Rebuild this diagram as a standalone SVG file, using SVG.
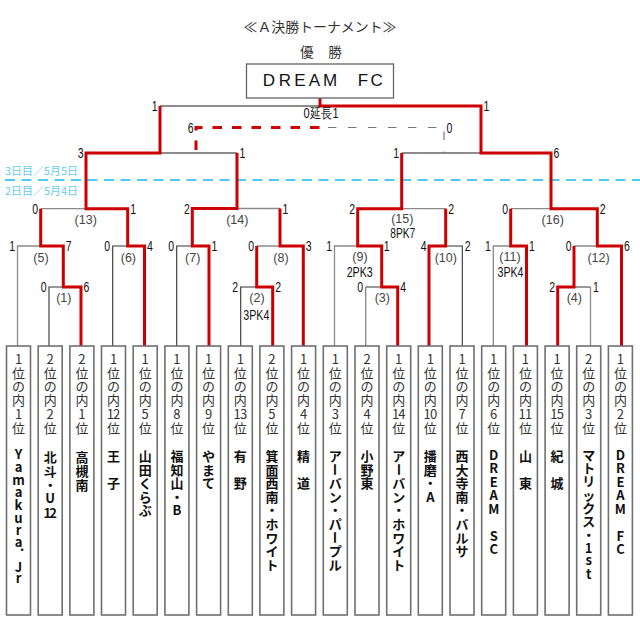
<svg xmlns="http://www.w3.org/2000/svg" width="640" height="640" viewBox="0 0 640 640">
<style>
.box{fill:#fff;stroke:#707070;stroke-width:1.6}
.rk{font-family:"Noto Sans CJK JP",sans-serif;font-size:13px;fill:#333;text-anchor:middle}
.tm{font-family:"Noto Sans CJK JP",sans-serif;font-size:13px;font-weight:700;fill:#111;text-anchor:middle}
.ln{fill:none;stroke:#8a8a8a;stroke-width:1.3}
.lk{fill:none;stroke:#333;stroke-width:1.1}
.lt{fill:none;stroke:#666;stroke-width:1.3}
.w{fill:none;stroke:#cc0000;stroke-width:3;stroke-linejoin:miter}
.wd{fill:none;stroke:#cc0000;stroke-width:3;stroke-dasharray:9.5 10;stroke-dashoffset:16.5}
.gd{fill:none;stroke:#777;stroke-width:1.2;stroke-dasharray:8.5 11.5}
.cy{fill:none;stroke:#4fc9f0;stroke-width:2;stroke-dasharray:10 6.5}
.sc{font-family:"Liberation Sans",Arial,sans-serif;font-size:14px;fill:#111}
.l{text-anchor:end}
.lb{font-family:"Liberation Sans",Arial,sans-serif;font-size:12.5px;fill:#444;text-anchor:middle}
.pk{font-family:"Liberation Sans",Arial,sans-serif;font-size:14px;fill:#111;text-anchor:middle}
.tt{font-family:"Noto Sans CJK JP",sans-serif;font-size:13.5px;fill:#333;text-anchor:middle}
.dt{font-family:"Noto Sans CJK JP",sans-serif;font-size:11px;fill:#66ccee}
.ch{font-family:"Liberation Sans",Arial,sans-serif;font-size:17px;fill:#111;text-anchor:middle}
</style>
<rect width="640" height="640" fill="#fff"/>

<g id="title">
<text class="tt" x="320" y="31.5" textLength="153" lengthAdjust="spacingAndGlyphs">≪Ａ決勝トーナメント≫</text>
<text class="tt" x="306.7 321 335" y="56.7">優　勝</text>
</g>

<g id="dates">
<path class="cy" d="M5,180H640"/>
<text class="dt" x="5" y="174.5" textLength="73" lengthAdjust="spacingAndGlyphs">3日目／5月5日</text>
<text class="dt" x="5" y="194.8" textLength="73" lengthAdjust="spacingAndGlyphs">2日目／5月4日</text>
</g>

<g id="connectors">
<path class="lk" d="M49,346V287H81"/>
<path class="ln" d="M17.5,346V246H63.3"/>
<path class="lk" d="M112.7,346V246H144.5"/>
<path class="ln" d="M40.7,208.7H127.7"/>
<path class="lk" d="M176.7,346V246H209"/>
<path class="lk" d="M240.7,346V287H272.7"/>
<path class="ln" d="M256.7,246H303.3"/>
<path class="ln" d="M192.3,208.5H280"/>
<path class="lt" d="M86,153H237"/>
<path class="lk" d="M365.7,287H397.7"/>
<path class="ln" d="M365.7,346V287"/>
<path class="ln" d="M334.5,346V246H381.7"/>
<path class="lk" d="M429,246H462.3V346"/>
<path class="ln" d="M357.7,208.7H445.7"/>
<path class="ln" d="M493.3,346V246H526.5"/>
<path class="lk" d="M557.7,287H590.5"/>
<path class="ln" d="M590.5,287V346"/>
<path class="ln" d="M574,246H621.5"/>
<path class="ln" d="M510.7,208.7H597.3"/>
<path class="lt" d="M401.7,153H551"/>
<path class="lt" d="M160,106H481"/>
<path class="gd" d="M328,127.5H444V153"/>
<path class="wd" d="M196,153V127.5H320"/>
<path class="w" d="M81,346V287H63.3V246H40.7V208.7"/>
<path class="w" d="M144.5,346V246H127.7V208.7H86V153H160V106"/>
<path class="w" d="M209,346V246H192.3V208.5H237V153"/>
<path class="w" d="M272.7,346V287H256.7V246"/>
<path class="w" d="M303.3,346V246H280V208.5"/>
<path class="w" d="M397.7,346V287H381.7V246H357.7V208.7H401.7V153"/>
<path class="w" d="M429,346V246H445.7V208.7"/>
<path class="w" d="M526.5,346V246H510.7V208.7"/>
<path class="w" d="M557.7,346V287H574V246"/>
<path class="w" d="M621.5,346V246H597.3V208.7H551V153H481V106H320V98"/>
</g>

<g id="scores">
<text class="sc l" transform="translate(46.5,292) scale(.75,1)">0</text>
<text class="sc" transform="translate(83.5,292) scale(.75,1)">6</text>
<text class="sc l" transform="translate(15,251) scale(.75,1)">1</text>
<text class="sc" transform="translate(65.8,251) scale(.75,1)">7</text>
<text class="sc l" transform="translate(110.2,251) scale(.75,1)">0</text>
<text class="sc" transform="translate(147,251) scale(.75,1)">4</text>
<text class="sc l" transform="translate(38.2,213.7) scale(.75,1)">0</text>
<text class="sc" transform="translate(130.2,213.7) scale(.75,1)">1</text>
<text class="sc l" transform="translate(174.2,251) scale(.75,1)">0</text>
<text class="sc" transform="translate(211.5,251) scale(.75,1)">1</text>
<text class="sc l" transform="translate(238.2,292) scale(.75,1)">2</text>
<text class="sc" transform="translate(275.2,292) scale(.75,1)">2</text>
<text class="sc l" transform="translate(254.2,251) scale(.75,1)">0</text>
<text class="sc" transform="translate(305.8,251) scale(.75,1)">3</text>
<text class="sc l" transform="translate(189.8,213.5) scale(.75,1)">2</text>
<text class="sc" transform="translate(282.5,213.5) scale(.75,1)">1</text>
<text class="sc l" transform="translate(83.5,158) scale(.75,1)">3</text>
<text class="sc" transform="translate(239.5,158) scale(.75,1)">1</text>
<text class="sc l" transform="translate(363.2,292) scale(.75,1)">0</text>
<text class="sc" transform="translate(400.2,292) scale(.75,1)">4</text>
<text class="sc l" transform="translate(332,251) scale(.75,1)">1</text>
<text class="sc" transform="translate(383.8,251) scale(.75,1)">1</text>
<text class="sc l" transform="translate(426.5,251) scale(.75,1)">4</text>
<text class="sc" transform="translate(464.8,251) scale(.75,1)">2</text>
<text class="sc l" transform="translate(355.2,213.7) scale(.75,1)">2</text>
<text class="sc" transform="translate(448.2,213.7) scale(.75,1)">2</text>
<text class="sc l" transform="translate(490.8,251) scale(.75,1)">1</text>
<text class="sc" transform="translate(529,251) scale(.75,1)">1</text>
<text class="sc l" transform="translate(555.2,292) scale(.75,1)">2</text>
<text class="sc" transform="translate(593,292) scale(.75,1)">1</text>
<text class="sc l" transform="translate(571.5,251) scale(.75,1)">0</text>
<text class="sc" transform="translate(624,251) scale(.75,1)">6</text>
<text class="sc l" transform="translate(508.2,213.7) scale(.75,1)">0</text>
<text class="sc" transform="translate(599.8,213.7) scale(.75,1)">2</text>
<text class="sc l" transform="translate(399.2,158) scale(.75,1)">1</text>
<text class="sc" transform="translate(553.5,158) scale(.75,1)">6</text>
<text class="sc l" transform="translate(157.5,111) scale(.75,1)">1</text>
<text class="sc" transform="translate(483.5,111) scale(.75,1)">1</text>
<text class="sc l" transform="translate(193.5,132.5) scale(.75,1)">6</text>
<text class="sc" transform="translate(446.5,132.5) scale(.75,1)">0</text>
<text class="pk" font-size="13" transform="translate(321,118.3) scale(.79,1)">0延長1</text>
<text class="pk" transform="translate(256.3,320) scale(.76,1)">3PK4</text>
<text class="pk" transform="translate(359.7,276.5) scale(.76,1)">2PK3</text>
<text class="pk" transform="translate(402.8,238.3) scale(.73,1)">8PK7</text>
<text class="pk" transform="translate(510.5,276.5) scale(.76,1)">3PK4</text>
</g>

<g id="match-labels">
<text class="lb" x="63.8" y="301.5">(1)</text>
<text class="lb" x="257" y="301.5">(2)</text>
<text class="lb" x="382.3" y="301.5">(3)</text>
<text class="lb" x="574.3" y="301.5">(4)</text>
<text class="lb" x="41" y="261.5">(5)</text>
<text class="lb" x="128.4" y="261.5">(6)</text>
<text class="lb" x="192.7" y="261.5">(7)</text>
<text class="lb" x="281" y="261.5">(8)</text>
<text class="lb" x="360" y="261">(9)</text>
<text class="lb" x="445.8" y="261.5">(10)</text>
<text class="lb" x="510" y="261">(11)</text>
<text class="lb" x="598.5" y="261.5">(12)</text>
<text class="lb" x="85.7" y="224">(13)</text>
<text class="lb" x="237.3" y="224">(14)</text>
<text class="lb" x="402.3" y="222.5">(15)</text>
<text class="lb" x="552.7" y="224">(16)</text>
</g>

<g id="champion">
<rect x="246.5" y="64" width="147" height="34" fill="#fff" stroke="#666" stroke-width="1.3"/>
<text class="ch" x="269 285 300 314.5 330 346.5 363 376.7" y="86">DREAM FC</text>
</g>

<g id="team-1">
<rect class="box" x="6.5" y="346" width="24" height="269"/>
<text class="rk" x="18.5 18.5 18.5 18.5 18.5 18.5" y="364 377.7 391.4 405.1 418.8 432.5">1位の内1位</text>
<text class="tm" x="18.5 18.5 18.5 18.5 18.5 18.5 18.5 18.5 22 18.5 18.5" y="459 471.5 484.5 496.5 510.4 522.5 534.5 546.5 551 572.4 582.8">Yamakura.Jr</text>
</g>
<g id="team-2">
<rect class="box" x="38.2" y="346" width="24" height="269"/>
<text class="rk" x="50.2 50.2 50.2 50.2 50.2 50.2" y="364 377.7 391.4 405.1 418.8 432.5">2位の内2位</text>
<text class="tm" x="50.2 50.2 50.2 50.2 47.4 53" y="462 475.8 489.6 503.4 517.6 517.6">北斗・U12</text>
</g>
<g id="team-3">
<rect class="box" x="69.9" y="346" width="24" height="269"/>
<text class="rk" x="81.9 81.9 81.9 81.9 81.9 81.9" y="364 377.7 391.4 405.1 418.8 432.5">2位の内1位</text>
<text class="tm" x="81.9 81.9 81.9" y="462 476 490">高槻南</text>
</g>
<g id="team-4">
<rect class="box" x="101.5" y="346" width="24" height="269"/>
<text class="rk" x="113.5 113.5 113.5 113.5 110.3 116.7 113.5" y="364 377.7 391.4 405.1 418.8 418.8 432.5">1位の内12位</text>
<text class="tm" x="113.5 113.5 113.5" y="461 474.6 488.2">王　子</text>
</g>
<g id="team-5">
<rect class="box" x="133.2" y="346" width="24" height="269"/>
<text class="rk" x="145.2 145.2 145.2 145.2 145.2 145.2" y="364 377.7 391.4 405.1 418.8 432.5">1位の内5位</text>
<text class="tm" x="145.2 145.2 145.2 145.2 145.2" y="461 474.6 488.2 501.8 515.4">山田くらぶ</text>
</g>
<g id="team-6">
<rect class="box" x="164.9" y="346" width="24" height="269"/>
<text class="rk" x="176.9 176.9 176.9 176.9 176.9 176.9" y="364 377.7 391.4 405.1 418.8 432.5">1位の内8位</text>
<text class="tm" x="176.9 176.9 176.9 176.9 176.9" y="461 474.6 488.2 501.8 515.4">福知山・B</text>
</g>
<g id="team-7">
<rect class="box" x="196.6" y="346" width="24" height="269"/>
<text class="rk" x="208.6 208.6 208.6 208.6 208.6 208.6" y="364 377.7 391.4 405.1 418.8 432.5">1位の内9位</text>
<text class="tm" x="208.6 208.6 208.6" y="461 474.6 488.2">やまて</text>
</g>
<g id="team-8">
<rect class="box" x="228.3" y="346" width="24" height="269"/>
<text class="rk" x="240.3 240.3 240.3 240.3 237.1 243.5 240.3" y="364 377.7 391.4 405.1 418.8 418.8 432.5">1位の内13位</text>
<text class="tm" x="240.3 240.3 240.3" y="461 474.6 488.2">有　野</text>
</g>
<g id="team-9">
<rect class="box" x="259.9" y="346" width="24" height="269"/>
<text class="rk" x="271.9 271.9 271.9 271.9 271.9 271.9" y="364 377.7 391.4 405.1 418.8 432.5">2位の内5位</text>
<text class="tm" x="271.9 271.9 271.9 271.9 271.9 271.9 271.9 271.9 271.9" y="461 474.6 488.2 501.8 515.4 529 542.6 556.2 569.8">箕面西南・ホワイト</text>
</g>
<g id="team-10">
<rect class="box" x="291.6" y="346" width="24" height="269"/>
<text class="rk" x="303.6 303.6 303.6 303.6 303.6 303.6" y="364 377.7 391.4 405.1 418.8 432.5">1位の内4位</text>
<text class="tm" x="303.6 303.6 303.6" y="461 474.6 488.2">精　道</text>
</g>
<g id="team-11">
<rect class="box" x="323.3" y="346" width="24" height="269"/>
<text class="rk" x="335.3 335.3 335.3 335.3 335.3 335.3" y="364 377.7 391.4 405.1 418.8 432.5">1位の内3位</text>
<text class="tm" x="335.3 336.9 335.3 335.3 335.3 335.3 336.9 335.3 335.3" y="461 463.1 488.2 501.8 515.4 529 531.1 556.2 569.8" rotate="0 90 0 0 0 0 90 0 0">アーバン・パープル</text>
</g>
<g id="team-12">
<rect class="box" x="355" y="346" width="24" height="269"/>
<text class="rk" x="367 367 367 367 367 367" y="364 377.7 391.4 405.1 418.8 432.5">2位の内4位</text>
<text class="tm" x="367 367 367" y="461 474.6 488.2">小野東</text>
</g>
<g id="team-13">
<rect class="box" x="386.7" y="346" width="24" height="269"/>
<text class="rk" x="398.7 398.7 398.7 398.7 395.5 401.9 398.7" y="364 377.7 391.4 405.1 418.8 418.8 432.5">1位の内14位</text>
<text class="tm" x="398.7 400.3 398.7 398.7 398.7 398.7 398.7 398.7 398.7" y="461 463.1 488.2 501.8 515.4 529 542.6 556.2 569.8" rotate="0 90 0 0 0 0 0 0 0">アーバン・ホワイト</text>
</g>
<g id="team-14">
<rect class="box" x="418.3" y="346" width="24" height="269"/>
<text class="rk" x="430.3 430.3 430.3 430.3 427.1 433.5 430.3" y="364 377.7 391.4 405.1 418.8 418.8 432.5">1位の内10位</text>
<text class="tm" x="430.3 430.3 430.3 430.3" y="461 474.6 488.2 501.8">播磨・A</text>
</g>
<g id="team-15">
<rect class="box" x="450" y="346" width="24" height="269"/>
<text class="rk" x="462 462 462 462 462 462" y="364 377.7 391.4 405.1 418.8 432.5">1位の内7位</text>
<text class="tm" x="462 462 462 462 462 462 462 462" y="461 474.6 488.2 501.8 515.4 529 542.6 556.2">西大寺南・バルサ</text>
</g>
<g id="team-16">
<rect class="box" x="481.7" y="346" width="24" height="269"/>
<text class="rk" x="493.7 493.7 493.7 493.7 493.7 493.7" y="364 377.7 391.4 405.1 418.8 432.5">1位の内6位</text>
<text class="tm" x="493.7 493.7 493.7 493.7 493.7 493.7 493.7 493.7" y="459.7 473.2 486.7 500.2 513.7 527.2 540.7 554.2">DREAM　SC</text>
</g>
<g id="team-17">
<rect class="box" x="513.4" y="346" width="24" height="269"/>
<text class="rk" x="525.4 525.4 525.4 525.4 522.2 528.6 525.4" y="364 377.7 391.4 405.1 418.8 418.8 432.5">1位の内11位</text>
<text class="tm" x="525.4 525.4 525.4" y="461 474.6 488.2">山　東</text>
</g>
<g id="team-18">
<rect class="box" x="545.1" y="346" width="24" height="269"/>
<text class="rk" x="557.1 557.1 557.1 557.1 553.9 560.3 557.1" y="364 377.7 391.4 405.1 418.8 418.8 432.5">1位の内15位</text>
<text class="tm" x="557.1 557.1 557.1" y="461 474.6 488.2">紀　城</text>
</g>
<g id="team-19">
<rect class="box" x="576.7" y="346" width="24" height="269"/>
<text class="rk" x="588.7 588.7 588.7 588.7 588.7 588.7" y="364 377.7 391.4 405.1 418.8 432.5">2位の内3位</text>
<text class="tm" x="588.7 588.7 588.7 588.7 588.7 588.7 588.7 588.7 588.7 588.7" y="459.5 472.9 486.2 499.6 512.9 526.3 539.6 552.7 564.8 578.7">マトリックス・1st</text>
</g>
<g id="team-20">
<rect class="box" x="608.4" y="346" width="24" height="269"/>
<text class="rk" x="620.4 620.4 620.4 620.4 620.4 620.4" y="364 377.7 391.4 405.1 418.8 432.5">1位の内2位</text>
<text class="tm" x="620.4 620.4 620.4 620.4 620.4 620.4 620.4 620.4" y="459.7 473.2 486.7 500.2 513.7 527.2 540.7 554.2">DREAM　FC</text>
</g>
</svg>
